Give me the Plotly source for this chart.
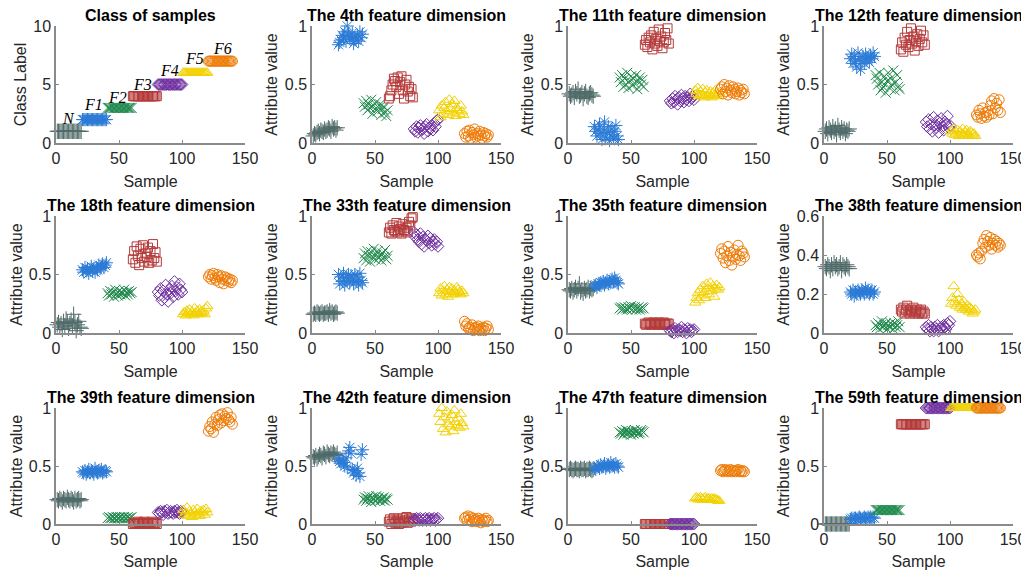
import plotly.graph_objects as go
from plotly.subplots import make_subplots

# ---------------- data ----------------
n_per = 20
class_names = ["N", "F1", "F2", "F3", "F4", "F5", "F6"]
class_labels = [1, 2, 3, 4, 5, 6, 7]
samples = list(range(1, 141))

feat4 = [0.06,0.08,0.07,0.09,0.10,0.08,0.11,0.10,0.09,0.12,0.10,0.11,0.13,0.12,0.10,0.14,0.12,0.13,0.11,0.13,
         0.84,0.86,0.88,0.92,0.90,0.95,0.87,1.00,0.93,0.91,0.89,0.94,0.85,0.90,0.88,0.92,0.87,0.95,0.90,0.93,
         0.34,0.31,0.36,0.28,0.33,0.30,0.37,0.25,0.32,0.29,0.35,0.27,0.30,0.33,0.24,0.29,0.31,0.26,0.23,0.28,
         0.38,0.40,0.45,0.50,0.55,0.53,0.48,0.56,0.42,0.52,0.57,0.45,0.38,0.50,0.54,0.44,0.48,0.40,0.46,0.39,
         0.12,0.10,0.14,0.09,0.13,0.15,0.11,0.12,0.08,0.14,0.16,0.10,0.13,0.12,0.15,0.11,0.17,0.14,0.19,0.20,
         0.28,0.22,0.32,0.25,0.30,0.35,0.27,0.24,0.37,0.29,0.33,0.26,0.36,0.23,0.30,0.28,0.25,0.32,0.27,0.24,
         0.08,0.05,0.10,0.06,0.11,0.04,0.09,0.07,0.12,0.05,0.08,0.06,0.10,0.07,0.04,0.09,0.06,0.08,0.05,0.07]

feat11 = [0.42,0.40,0.41,0.43,0.39,0.44,0.42,0.46,0.40,0.41,0.43,0.38,0.42,0.44,0.40,0.39,0.42,0.43,0.41,0.40,
          0.14,0.10,0.06,0.12,0.16,0.08,0.03,0.11,0.18,0.05,0.09,0.14,0.02,0.07,0.12,0.04,0.10,0.15,0.06,0.03,
          0.56,0.52,0.58,0.48,0.55,0.50,0.60,0.47,0.53,0.57,0.49,0.55,0.51,0.58,0.46,0.53,0.56,0.50,0.54,0.48,
          0.84,0.88,0.82,0.90,0.86,0.92,0.80,0.95,0.85,0.89,0.83,0.97,0.87,0.91,0.81,0.86,0.94,0.88,0.98,0.85,
          0.36,0.34,0.38,0.35,0.40,0.37,0.33,0.39,0.36,0.41,0.38,0.35,0.40,0.37,0.39,0.36,0.42,0.38,0.40,0.37,
          0.45,0.42,0.47,0.40,0.44,0.41,0.46,0.39,0.43,0.45,0.40,0.42,0.44,0.39,0.43,0.41,0.45,0.40,0.42,0.43,
          0.46,0.48,0.42,0.50,0.44,0.47,0.41,0.49,0.45,0.43,0.48,0.46,0.42,0.44,0.47,0.41,0.45,0.43,0.46,0.42]

feat12 = [0.10,0.12,0.08,0.13,0.11,0.09,0.14,0.10,0.12,0.07,0.15,0.11,0.09,0.13,0.10,0.12,0.08,0.11,0.10,0.12,
          0.72,0.76,0.68,0.74,0.70,0.65,0.77,0.72,0.63,0.70,0.74,0.68,0.76,0.71,0.73,0.69,0.75,0.72,0.77,0.74,
          0.58,0.55,0.50,0.60,0.45,0.52,0.48,0.57,0.43,0.53,0.60,0.47,0.55,0.50,0.62,0.45,0.52,0.58,0.48,0.46,
          0.80,0.86,0.78,0.90,0.84,0.95,0.82,0.88,0.98,0.85,0.91,0.79,0.87,0.93,0.83,0.89,0.96,0.86,0.92,0.84,
          0.18,0.14,0.20,0.12,0.16,0.10,0.22,0.15,0.13,0.19,0.09,0.17,0.21,0.14,0.11,0.18,0.16,0.23,0.13,0.15,
          0.10,0.08,0.12,0.07,0.09,0.11,0.06,0.10,0.08,0.12,0.07,0.09,0.11,0.08,0.06,0.10,0.09,0.07,0.08,0.06,
          0.24,0.22,0.28,0.25,0.21,0.30,0.23,0.26,0.22,0.27,0.24,0.32,0.36,0.25,0.38,0.30,0.34,0.28,0.37,0.26]

feat18 = [0.07,0.09,0.05,0.08,0.03,0.10,0.06,0.12,0.09,0.04,0.08,0.11,0.06,0.16,0.09,0.02,0.07,0.10,0.05,0.04,
          0.54,0.52,0.56,0.53,0.55,0.51,0.54,0.57,0.53,0.55,0.52,0.56,0.54,0.58,0.55,0.57,0.59,0.56,0.58,0.60,
          0.34,0.32,0.36,0.33,0.35,0.31,0.37,0.34,0.32,0.36,0.33,0.35,0.34,0.37,0.32,0.35,0.33,0.36,0.34,0.35,
          0.63,0.70,0.60,0.74,0.66,0.58,0.72,0.64,0.75,0.61,0.68,0.65,0.73,0.60,0.70,0.62,0.76,0.64,0.69,0.61,
          0.35,0.32,0.38,0.28,0.36,0.30,0.41,0.33,0.27,0.37,0.34,0.40,0.31,0.44,0.36,0.39,0.33,0.42,0.37,0.35,
          0.16,0.18,0.15,0.19,0.17,0.20,0.16,0.18,0.15,0.21,0.17,0.19,0.16,0.20,0.18,0.17,0.19,0.16,0.21,0.23,
          0.48,0.50,0.46,0.49,0.51,0.47,0.45,0.50,0.48,0.43,0.49,0.46,0.42,0.48,0.45,0.47,0.44,0.46,0.43,0.45]

feat33 = [0.16,0.17,0.16,0.18,0.17,0.16,0.17,0.18,0.16,0.17,0.17,0.18,0.16,0.19,0.17,0.18,0.16,0.17,0.18,0.17,
          0.50,0.42,0.48,0.44,0.51,0.41,0.47,0.45,0.50,0.43,0.49,0.46,0.42,0.50,0.44,0.48,0.41,0.51,0.45,0.43,
          0.64,0.68,0.62,0.70,0.66,0.61,0.69,0.65,0.72,0.63,0.67,0.70,0.64,0.66,0.62,0.68,0.65,0.71,0.63,0.66,
          0.86,0.90,0.85,0.92,0.88,0.87,0.94,0.86,0.91,0.89,0.85,0.93,0.88,0.87,0.90,0.86,0.95,0.92,0.98,0.99,
          0.86,0.82,0.84,0.80,0.78,0.85,0.76,0.82,0.74,0.80,0.79,0.83,0.77,0.81,0.75,0.78,0.80,0.76,0.78,0.74,
          0.34,0.38,0.32,0.36,0.40,0.33,0.37,0.31,0.39,0.35,0.38,0.33,0.36,0.34,0.39,0.37,0.35,0.33,0.36,0.34,
          0.10,0.06,0.08,0.04,0.05,0.03,0.07,0.02,0.04,0.05,0.03,0.06,0.02,0.04,0.03,0.05,0.02,0.04,0.06,0.03]

feat35 = [0.37,0.36,0.38,0.35,0.37,0.39,0.36,0.38,0.42,0.35,0.37,0.34,0.38,0.36,0.37,0.39,0.36,0.38,0.37,0.38,
          0.40,0.41,0.39,0.42,0.41,0.43,0.42,0.44,0.41,0.43,0.45,0.42,0.44,0.43,0.46,0.44,0.47,0.45,0.43,0.42,
          0.21,0.22,0.20,0.21,0.22,0.21,0.20,0.22,0.21,0.23,0.20,0.21,0.22,0.20,0.21,0.22,0.20,0.21,0.22,0.21,
          0.08,0.07,0.08,0.09,0.08,0.07,0.08,0.09,0.08,0.08,0.07,0.09,0.08,0.07,0.08,0.09,0.08,0.07,0.08,0.08,
          0.02,0.01,0.03,0.00,0.04,0.02,0.01,0.03,0.02,0.05,0.01,0.03,0.02,0.00,0.04,0.02,0.03,0.01,0.02,0.03,
          0.26,0.30,0.34,0.28,0.37,0.32,0.40,0.35,0.30,0.42,0.38,0.33,0.43,0.36,0.40,0.31,0.38,0.41,0.37,0.39,
          0.68,0.72,0.64,0.70,0.60,0.66,0.74,0.62,0.69,0.58,0.65,0.71,0.63,0.67,0.75,0.66,0.62,0.70,0.68,0.65]

feat38 = [0.34,0.33,0.35,0.34,0.32,0.35,0.33,0.36,0.34,0.35,0.33,0.34,0.36,0.32,0.35,0.34,0.33,0.35,0.34,0.33,
          0.21,0.20,0.22,0.19,0.21,0.20,0.22,0.21,0.20,0.22,0.21,0.20,0.23,0.21,0.22,0.20,0.21,0.22,0.20,0.21,
          0.04,0.03,0.05,0.02,0.04,0.06,0.03,0.04,0.05,0.02,0.04,0.03,0.05,0.04,0.02,0.05,0.03,0.04,0.06,0.03,
          0.12,0.11,0.13,0.10,0.12,0.14,0.11,0.10,0.12,0.11,0.13,0.10,0.11,0.12,0.10,0.11,0.12,0.10,0.11,0.10,
          0.03,0.02,0.04,0.01,0.03,0.02,0.01,0.03,0.02,0.04,0.01,0.02,0.03,0.02,0.04,0.03,0.02,0.05,0.04,0.06,
          0.15,0.18,0.24,0.16,0.14,0.20,0.17,0.13,0.15,0.12,0.16,0.13,0.12,0.14,0.11,0.13,0.12,0.10,0.11,0.12,
          0.40,0.39,0.41,0.38,0.42,0.46,0.48,0.44,0.50,0.47,0.45,0.49,0.43,0.46,0.48,0.45,0.47,0.44,0.46,0.45]

feat39 = [0.21,0.20,0.22,0.21,0.19,0.22,0.21,0.20,0.23,0.21,0.20,0.22,0.21,0.19,0.22,0.20,0.21,0.22,0.20,0.21,
          0.45,0.44,0.46,0.43,0.45,0.47,0.44,0.46,0.45,0.43,0.48,0.45,0.44,0.46,0.45,0.47,0.44,0.45,0.46,0.45,
          0.05,0.06,0.05,0.05,0.06,0.05,0.05,0.06,0.05,0.05,0.06,0.05,0.05,0.06,0.05,0.05,0.06,0.05,0.05,0.06,
          0.00,0.01,0.00,0.01,0.02,0.00,0.01,0.00,0.01,0.02,0.00,0.01,0.00,0.01,0.00,0.02,0.01,0.00,0.01,0.00,
          0.10,0.09,0.11,0.10,0.08,0.11,0.10,0.12,0.09,0.10,0.11,0.10,0.09,0.11,0.10,0.12,0.10,0.09,0.11,0.10,
          0.12,0.08,0.10,0.14,0.07,0.11,0.09,0.06,0.12,0.10,0.08,0.13,0.09,0.07,0.11,0.10,0.12,0.08,0.13,0.10,
          0.80,0.84,0.82,0.88,0.79,0.86,0.92,0.85,0.90,0.94,0.87,0.95,0.89,0.93,0.91,0.96,0.90,0.88,0.92,0.86]

feat42 = [0.58,0.57,0.59,0.56,0.58,0.60,0.59,0.57,0.61,0.60,0.58,0.62,0.60,0.59,0.61,0.60,0.62,0.60,0.59,0.61,
          0.56,0.54,0.52,0.55,0.53,0.50,0.57,0.49,0.63,0.66,0.61,0.47,0.44,0.46,0.42,0.48,0.44,0.41,0.60,0.64,
          0.21,0.23,0.20,0.22,0.24,0.21,0.19,0.23,0.22,0.20,0.24,0.21,0.23,0.20,0.22,0.21,0.23,0.20,0.22,0.21,
          0.02,0.04,0.00,0.03,0.05,0.01,0.02,0.04,0.00,0.03,0.01,0.05,0.02,0.03,0.06,0.01,0.04,0.02,0.05,0.03,
          0.04,0.03,0.05,0.04,0.03,0.05,0.04,0.03,0.04,0.05,0.03,0.04,0.05,0.03,0.04,0.04,0.05,0.03,0.04,0.05,
          0.95,0.88,1.00,0.82,0.92,0.79,0.97,0.86,0.90,0.84,0.94,0.80,0.98,0.88,0.85,0.91,0.83,0.95,0.87,0.84,
          0.05,0.06,0.03,0.07,0.04,0.06,0.02,0.05,0.03,0.04,0.02,0.05,0.03,0.01,0.04,0.02,0.03,0.05,0.02,0.03]

feat47 = [0.47,0.48,0.47,0.46,0.47,0.48,0.47,0.47,0.46,0.48,0.47,0.47,0.48,0.46,0.47,0.47,0.48,0.47,0.46,0.47,
          0.48,0.47,0.49,0.50,0.48,0.51,0.49,0.50,0.52,0.48,0.50,0.51,0.49,0.53,0.50,0.51,0.49,0.52,0.50,0.49,
          0.79,0.78,0.80,0.77,0.79,0.81,0.78,0.80,0.79,0.77,0.80,0.78,0.81,0.79,0.80,0.78,0.79,0.81,0.80,0.79,
          0.00,0.00,0.00,0.00,0.00,0.00,0.00,0.00,0.00,0.00,0.00,0.00,0.00,0.00,0.00,0.00,0.00,0.00,0.00,0.00,
          0.00,0.00,0.00,0.00,0.00,0.00,0.00,0.00,0.00,0.00,0.00,0.00,0.00,0.00,0.00,0.00,0.00,0.00,0.00,0.00,
          0.22,0.23,0.22,0.21,0.23,0.22,0.21,0.22,0.23,0.21,0.22,0.22,0.21,0.22,0.21,0.22,0.21,0.21,0.20,0.20,
          0.46,0.47,0.45,0.46,0.47,0.46,0.45,0.46,0.47,0.45,0.46,0.46,0.45,0.46,0.47,0.45,0.46,0.45,0.46,0.45]

feat59 = [0.00,0.00,0.00,0.00,0.00,0.00,0.00,0.00,0.00,0.00,0.00,0.00,0.00,0.00,0.00,0.00,0.00,0.00,0.00,0.00,
          0.04,0.05,0.04,0.05,0.05,0.04,0.05,0.06,0.05,0.04,0.05,0.06,0.05,0.05,0.06,0.05,0.06,0.05,0.06,0.05,
          0.12,0.12,0.12,0.12,0.12,0.12,0.12,0.12,0.12,0.12,0.12,0.12,0.12,0.12,0.12,0.12,0.12,0.12,0.12,0.12,
          0.86,0.86,0.86,0.86,0.86,0.86,0.86,0.86,0.86,0.86,0.86,0.86,0.86,0.86,0.86,0.86,0.86,0.86,0.86,0.86,
          1.00,1.00,1.00,1.00,1.00,1.00,1.00,1.00,1.00,1.00,1.00,1.00,1.00,1.00,1.00,1.00,1.00,1.00,1.00,1.00,
          1.00,1.00,1.00,1.00,1.00,1.00,1.00,1.00,1.00,1.00,1.00,1.00,1.00,1.00,1.00,1.00,1.00,1.00,1.00,1.00,
          1.00,1.00,1.00,1.00,1.00,1.00,1.00,1.00,1.00,1.00,1.00,1.00,1.00,1.00,1.00,1.00,1.00,1.00,1.00,1.00]

class_series = [lab for lab in class_labels for _ in range(n_per)]

panel_titles = ["Class of samples", "The 4th feature dimension", "The 11th feature dimension",
                "The 12th feature dimension", "The 18th feature dimension", "The 33th feature dimension",
                "The 35th feature dimension", "The 38th feature dimension", "The 39th feature dimension",
                "The 42th feature dimension", "The 47th feature dimension", "The 59th feature dimension"]
panel_values = [class_series, feat4, feat11, feat12, feat18, feat33, feat35, feat38, feat39,
                feat42, feat47, feat59]
y_ticks = [[0, 5, 10]] + [[0, 0.5, 1]] * 6 + [[0, 0.2, 0.4, 0.6]] + [[0, 0.5, 1]] * 4
y_ranges = [[0, 10]] + [[0, 1]] * 6 + [[0, 0.6]] + [[0, 1]] * 4
x_ticks = [0, 50, 100, 150]

# label positions (x, y) of the class names in the first panel
label_x = [10, 30, 49, 69, 90, 110, 132]
label_y = [2.1, 3.25, 3.9, 5.0, 6.2, 7.2, 8.1]

# ---------------- styles ----------------
colors = ["#4f6b69", "#2b7bd6", "#1f8a4c", "#b53a3a", "#7030a0", "#f2d100", "#ee7b06"]
symbols = ["cross-thin-open", "asterisk-open", "x-thin-open", "square-open",
           "diamond-open", "triangle-up-open", "circle-open"]
msizes = [11, 11, 10, 9, 9, 10, 10]

# the page body adds an 8px offset; positions below are page pixels minus that offset
OFF = 8
W, H = 1029 - OFF, 570 - OFF
col_px = [(56, 245), (312, 501), (568, 757), (824, 1013)]
row_px = [(26, 143), (216, 333), (408, 524)]
FONT = "Liberation Sans, Arial, Helvetica, sans-serif"
TXT = "#262626"
AX = "#8a8a8a"

fig = make_subplots(rows=3, cols=4)

for p in range(12):
    r, c = p // 4, p % 4
    vals = panel_values[p]
    for k in range(7):
        xs = samples[k * n_per:(k + 1) * n_per]
        ys = vals[k * n_per:(k + 1) * n_per]
        fig.add_trace(go.Scatter(
            x=xs, y=ys, mode="markers", cliponaxis=False, showlegend=False,
            marker=dict(symbol=symbols[k], size=msizes[k], color=colors[k],
                        line=dict(width=1, color=colors[k])),
            name=class_names[k]), row=r + 1, col=c + 1)

    xd = [(col_px[c][0] - OFF) / W, (col_px[c][1] - OFF) / W]
    yd = [1 - (row_px[r][1] - OFF) / H, 1 - (row_px[r][0] - OFF) / H]
    sfx = "" if p == 0 else str(p + 1)
    fig.layout["xaxis" + sfx].update(
        domain=xd, range=[0, 150], tickvals=x_ticks, showline=True, linecolor=AX, linewidth=1.5,
        ticks="inside", ticklen=3, tickcolor=AX, showgrid=False, zeroline=False, automargin=False,
        tickfont=dict(size=16, color=TXT, family=FONT),
        title=dict(text="Sample", font=dict(size=16, color=TXT, family=FONT), standoff=10))
    fig.layout["yaxis" + sfx].update(
        domain=yd, range=y_ranges[p], tickvals=y_ticks[p], showline=True, linecolor=AX, linewidth=1.5,
        ticks="inside", ticklen=3, tickcolor=AX, showgrid=False, zeroline=False, automargin=False,
        tickfont=dict(size=16, color=TXT, family=FONT),
        title=dict(text="Class Label" if p == 0 else "Attribute value",
                   font=dict(size=16, color=TXT, family=FONT), standoff=3))
    fig.add_annotation(text="<b>" + panel_titles[p] + "</b>", xref="paper", yref="paper",
                       x=(xd[0] + xd[1]) / 2, y=yd[1], xanchor="center", yanchor="bottom",
                       yshift=0, showarrow=False, font=dict(size=16, color="black", family=FONT))

for k in range(7):
    fig.add_annotation(text="<i>" + class_names[k] + "</i>", x=label_x[k], y=label_y[k],
                       xref="x", yref="y", showarrow=False,
                       font=dict(size=16, color="black", family="Liberation Serif, Times New Roman, serif"))

fig.update_layout(width=W, height=H, margin=dict(l=0, r=0, t=0, b=0),
                  plot_bgcolor="white", paper_bgcolor="white")
fig.write_html("out.html")
